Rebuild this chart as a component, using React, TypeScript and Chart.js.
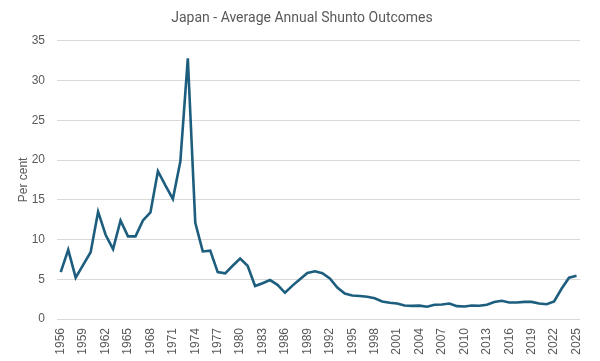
import React, { useEffect, useRef } from "react";
import { Chart, registerables } from "chart.js";

Chart.register(...registerables);

const years: string[] = [];
for (let y = 1956; y <= 2025; y++) years.push(String(y));

const shunto: number[] = [
  5.9, 8.7, 5.2, 6.8, 8.4, 13.5, 10.6, 8.8, 12.4, 10.4,
  10.4, 12.4, 13.4, 18.6, 16.8, 15.1, 19.8, 32.8, 12.1, 8.5,
  8.6, 5.9, 5.75, 6.7, 7.6, 6.7, 4.15, 4.5, 4.9, 4.3,
  3.3, 4.2, 5.0, 5.8, 6.0, 5.75, 5.1, 3.95, 3.2, 2.95,
  2.9, 2.8, 2.6, 2.2, 2.05, 1.95, 1.7, 1.65, 1.68, 1.55,
  1.8, 1.83, 1.95, 1.62, 1.58, 1.7, 1.67, 1.8, 2.15, 2.3,
  2.08, 2.08, 2.15, 2.15, 1.95, 1.85, 2.2, 3.8, 5.2, 5.45,
];

const yTicks: number[] = [0, 5, 10, 15, 20, 25, 30, 35];

export default function App() {
  const ref = useRef<HTMLCanvasElement | null>(null);
  useEffect(() => {
    document.body.style.margin = "0";
    const ctx = ref.current!;
    const chart = new Chart(ctx, {
      type: "line",
      data: {
        labels: years,
        datasets: [
          {
            data: shunto,
            borderColor: "#1d5d7e",
            borderWidth: 2.6,
            pointRadius: 0,
            tension: 0,
            fill: false,
          },
        ],
      },
      options: {
        animation: false,
        responsive: false,
        layout: { padding: { left: 16, right: 12, top: 6, bottom: 4 } },
        plugins: {
          legend: { display: false },
          tooltip: { enabled: false },
          title: {
            display: true,
            text: "Japan - Average Annual Shunto Outcomes",
            color: "#595959",
            font: { family: "Roboto", size: 14, weight: "normal" },
            padding: { top: 4, bottom: 14 },
          },
        },
        scales: {
          x: {
            offset: true,
            grid: { display: false, drawTicks: false },
            border: { display: false },
            afterFit: (axis: any) => {
              axis.height = 38;
            },
            ticks: {
              autoSkip: false,
              maxRotation: 90,
              minRotation: 90,
              color: "#595959",
              font: { family: "Liberation Sans", size: 12 },
              padding: 9,
              callback: (_v: any, i: number) => (i % 3 === 0 ? years[i] : ""),
            },
          },
          y: {
            min: 0,
            max: 35,
            afterBuildTicks: (axis: any) => {
              axis.ticks = yTicks.map((v) => ({ value: v }));
            },
            afterFit: (axis: any) => {
              axis.width = 41;
            },
            grid: { color: "#d9d9d9", lineWidth: 1, drawTicks: false },
            border: { display: false },
            ticks: {
              color: "#595959",
              font: { family: "Liberation Sans", size: 12 },
              padding: 12,
            },
            title: {
              display: true,
              text: "Per cent",
              color: "#595959",
              font: { family: "Liberation Sans", size: 12 },
              padding: { top: 0, bottom: 0 },
            },
          },
        },
      },
    });
    return () => chart.destroy();
  }, []);
  return (
    <div style={{ width: 600, height: 361, background: "#fff" }}>
      <canvas ref={ref} width={600} height={361} />
    </div>
  );
}
